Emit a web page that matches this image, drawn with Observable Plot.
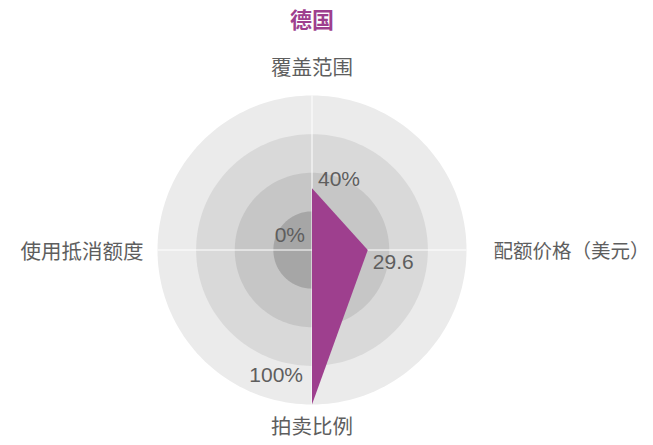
<!DOCTYPE html>
<html><head><meta charset="utf-8">
<script src="https://cdn.jsdelivr.net/npm/d3@7"></script>
<script src="https://cdn.jsdelivr.net/npm/@observablehq/plot@0.6"></script>
<style>body{margin:0;background:#fff} svg{display:block}</style>
</head><body><div id="chart"></div>
<script>
// ---- data ----
const title = "德国";
const axes = ["覆盖范围", "配额价格（美元）", "拍卖比例", "使用抵消额度"];
const values = [40, 29.6, 100, 0];
const axisMax = [100, 82, 100, 100];
const valueLabels = ["40%", "29.6", "100%", "0%"];
const ringLevels = [1, 0.75, 0.5, 0.25];

// ---- styles / layout ----
const ringColors = ["#ebebeb", "#d9d9d9", "#c6c6c6", "#a6a6a6"];
const purple = "#9e3f8e";
const textColor = "#5e5e5e";
const cjk = "'Noto Sans CJK SC', sans-serif";
const num = "'Liberation Sans', 'Noto Sans CJK SC', sans-serif";
const valueOffsets = [
  {dx: 6, dy: -2, anchor: "start"},
  {dx: 5, dy: 19, anchor: "start"},
  {dx: -9, dy: -23, anchor: "end"},
  {dx: -7, dy: -8, anchor: "end"}
];
const axisOffsets = [
  {dx: 0, dy: -27, anchor: "middle", size: 20.5},
  {dx: 27, dy: 2, anchor: "start", size: 19.5},
  {dx: 0, dy: 23, anchor: "middle", size: 20.5},
  {dx: -14, dy: 2, anchor: "end", size: 20.5}
];

const n = axes.length;
const ang = i => i * 2 * Math.PI / n;
const polar = (r, a) => ({x: r * Math.sin(a), y: r * Math.cos(a)});

const circle = r => d3.range(0, 360, 2).map(deg => polar(r, deg * Math.PI / 180));
const points = axes.map((name, i) => ({name, label: valueLabels[i], ...polar(values[i] / axisMax[i], ang(i))}));
const outer = axes.map((name, i) => ({name, ...polar(1, ang(i))}));

const marks = [];
ringLevels.forEach((lv, k) => {
  marks.push(Plot.line(circle(lv), {x: "x", y: "y", curve: "linear-closed", fill: ringColors[k], stroke: "none"}));
});
marks.push(Plot.link(outer, {x1: () => 0, y1: () => 0, x2: "x", y2: "y", stroke: "white", strokeWidth: 1}));
marks.push(Plot.line(points, {x: "x", y: "y", curve: "linear-closed", fill: purple, stroke: "none"}));
points.forEach((p, i) => {
  const o = valueOffsets[i];
  marks.push(Plot.text([p], {x: "x", y: "y", text: "label", dx: o.dx, dy: o.dy, textAnchor: o.anchor,
    lineAnchor: "bottom", fontSize: 21, fill: textColor, fontFamily: num}));
});
outer.forEach((p, i) => {
  const o = axisOffsets[i];
  marks.push(Plot.text([p], {x: "x", y: "y", text: "name", dx: o.dx, dy: o.dy, textAnchor: o.anchor,
    lineAnchor: "middle", fontSize: o.size, fill: textColor, fontFamily: cjk}));
});
marks.push(Plot.text([title], {x: () => 0, y: () => 1, text: d => d, dy: -75, lineAnchor: "middle",
  fontSize: 22, fontWeight: "bold", fill: purple, fontFamily: cjk}));

const chart = Plot.plot({
  width: 653, height: 445,
  marginLeft: 157, marginRight: 187, marginTop: 95, marginBottom: 41,
  x: {domain: [-1, 1], axis: null},
  y: {domain: [-1, 1], axis: null},
  style: {background: "white", overflow: "visible"},
  marks
});
document.getElementById("chart").appendChild(chart);
</script>
</body></html>
